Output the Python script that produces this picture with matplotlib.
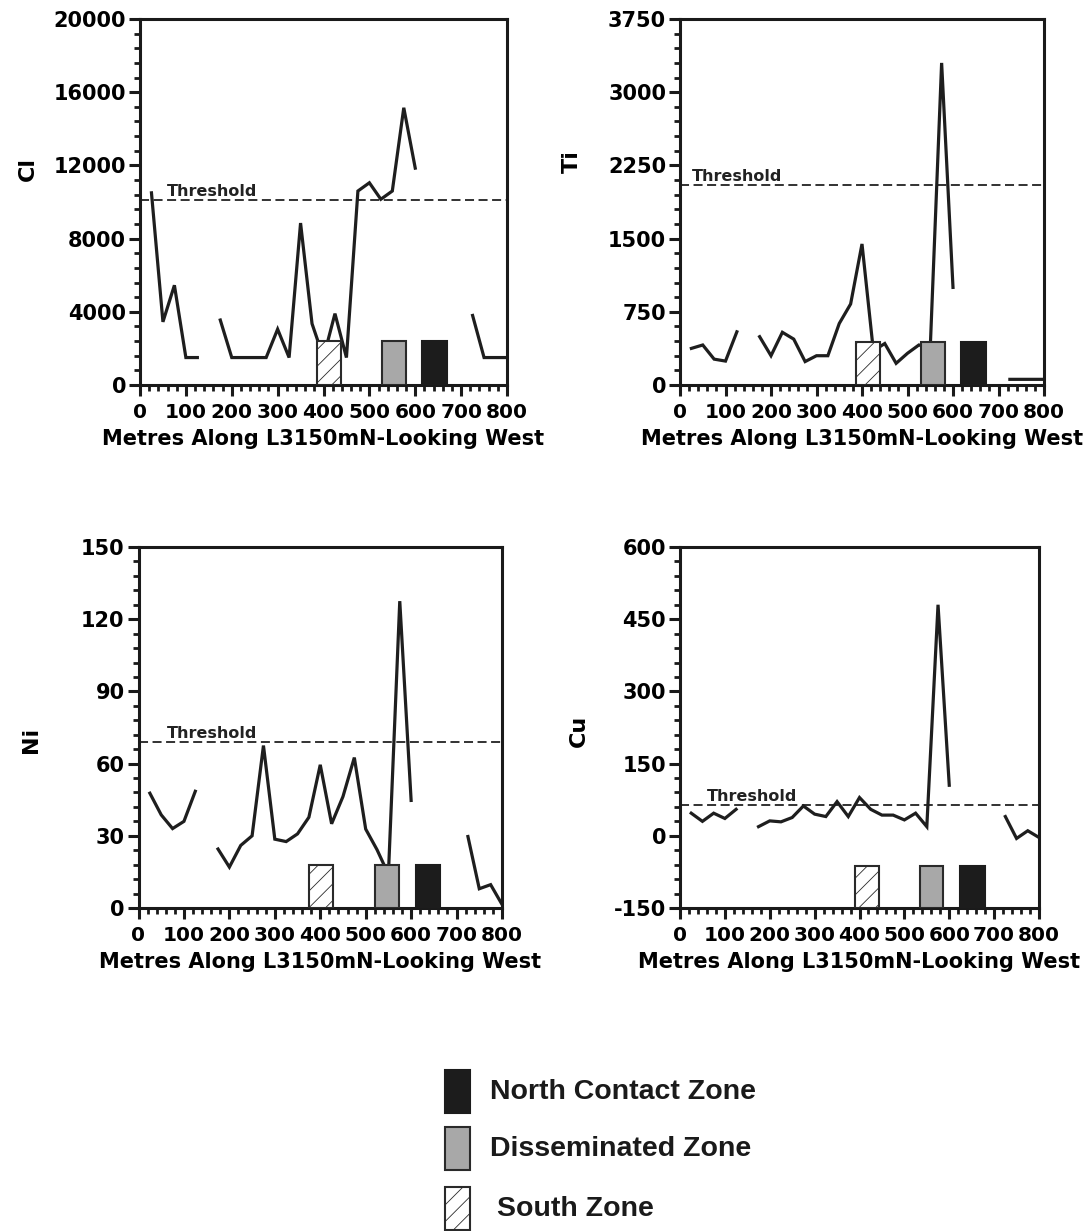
import numpy as np
import matplotlib
matplotlib.use('Agg')
import matplotlib.pyplot as plt
from matplotlib.patches import Rectangle
from matplotlib.ticker import MultipleLocator

# sample stations along the line (m); NaN = no sample, breaks the profile
stations = [25, 50, 75, 100, 125, 150, 175, 200, 225, 250, 275, 300, 325, 350, 375, 400,
            425, 450, 475, 500, 525, 550, 575, 600, 625, 650, 675, 700, 725, 750, 775, 800]
nan = np.nan

cl = [10500, 3450, 5450, 1500, 1500, nan, 3550, 1500, 1500, 1500, 1500, 3050, 1500, 8850,
      3350, 1500, 3900, 1500, 10600, 11050, 10150, 10600, 15150, 11850, nan, nan, nan, nan,
      3800, 1500, 1500, 1500]
ti = [375, 410, 265, 245, 545, nan, 495, 300, 540, 470, 240, 300, 300, 630, 830, 1445,
      350, 425, 222, 325, 410, 380, 3300, 1000, nan, nan, nan, nan, 58, 58, 58, 58]
ni = [47.7, 38.7, 33, 36, 48.5, nan, 24.5, 17, 26, 30, 67.5, 28.6, 27.6, 30.8, 37.7, 59.5,
      35, 46.3, 62.5, 32.8, 24.2, 14, 127.5, 44.7, nan, nan, nan, nan, 29.7, 8, 9.7, 1.5]
cu = [47, 30, 47, 36, 55, nan, 19, 31, 29, 38, 62, 45, 40, 71, 40, 79.5, 55, 43, 43, 33,
      47, 19, 480, 105, nan, nan, nan, nan, 40, -5.5, 10.5, -3.5]

elements = ['Cl', 'Ti', 'Ni', 'Cu']
profiles = [cl, ti, ni, cu]
thresholds = [10100, 2050, 69, 65]
y_limits = [(0, 20000), (0, 3750), (0, 150), (-150, 600)]
y_major = [4000, 750, 30, 150]
y_minor = [800, 150, 6, 30]

# zone boxes drawn on each panel: (start, end) metres, plus base/top in panel units
south_zone = [(386, 438), (387, 440), (376, 429), (390, 444)]
dissem_zone = [(527, 579), (530, 583), (520, 573), (535, 587)]
north_zone = [(615, 670), (617, 672), (610, 664), (624, 680)]
zone_base = [0, 0, 0, -150]
zone_top = [2400, 440, 18, -62]

zone_names = ['North Contact Zone', 'Disseminated Zone', 'South Zone']
zone_style = {
    'North Contact Zone': dict(facecolor='#1c1c1c', edgecolor='#1c1c1c', hatch=None),
    'Disseminated Zone': dict(facecolor='#a8a8a8', edgecolor='#2a2a2a', hatch=None),
    'South Zone': dict(facecolor='white', edgecolor='#2a2a2a', hatch='//'),
}

plt.rcParams['font.family'] = 'DejaVu Sans'
plt.rcParams['font.weight'] = 'bold'
plt.rcParams['axes.unicode_minus'] = False
plt.rcParams['hatch.color'] = '#8a8a8a'
plt.rcParams['hatch.linewidth'] = 0.6

fig = plt.figure(figsize=(10.86, 12.31), dpi=100)

W, H = 1086, 1231
# axes boxes in pixels: left, top, right, bottom
boxes = [(140, 19, 507, 385), (680, 19, 1044, 385),
         (138.5, 547, 502, 908), (680, 547, 1039, 908)]
ylabel_pos = [(-0.278, 0.59), (-0.269, 0.61), (-0.268, 0.465), (-0.255, 0.49)]
thr_label_x = [59, 27, 63, 60]

for i, el in enumerate(elements):
    l, t, r, b = boxes[i]
    ax = fig.add_axes([l / W, 1 - b / H, (r - l) / W, (b - t) / H])

    ax.plot(stations, profiles[i], color='#1e1e1e', lw=2.3, zorder=2,
            solid_joinstyle='miter')
    ax.axhline(thresholds[i], color='#222222', lw=1.3, dashes=(5, 2.5), zorder=1)
    ax.annotate('Threshold', xy=(thr_label_x[i], thresholds[i]), xytext=(0, 0.5),
                textcoords='offset points', va='bottom', ha='left',
                fontsize=11.5, fontweight='bold', color='#222222')

    for name, zone in zip(['South Zone', 'Disseminated Zone', 'North Contact Zone'],
                          [south_zone, dissem_zone, north_zone]):
        x0, x1 = zone[i]
        st = zone_style[name]
        ax.bar(x0, zone_top[i] - zone_base[i], width=x1 - x0, bottom=zone_base[i],
               align='edge', facecolor=st['facecolor'], edgecolor=st['edgecolor'],
               hatch=st['hatch'], linewidth=1.5, zorder=3)

    ax.set_xlim(0, 800)
    ax.set_ylim(*y_limits[i])
    ax.xaxis.set_major_locator(MultipleLocator(100))
    ax.xaxis.set_minor_locator(MultipleLocator(20))
    ax.yaxis.set_major_locator(MultipleLocator(y_major[i]))
    ax.yaxis.set_minor_locator(MultipleLocator(y_minor[i]))

    for sp in ax.spines.values():
        sp.set_linewidth(2.2)
        sp.set_color('#1a1a1a')
    ax.tick_params(which='major', direction='out', length=8, width=2.2, color='#1a1a1a')
    ax.tick_params(which='minor', direction='out', length=4, width=2.0, color='#1a1a1a')
    ax.tick_params(axis='x', which='major', labelsize=14.5, pad=5)
    ax.tick_params(axis='y', which='major', labelsize=15, pad=2)
    for lab in ax.get_xticklabels() + ax.get_yticklabels():
        lab.set_fontweight('bold')

    ax.set_xlabel('Metres Along L3150mN-Looking West', fontsize=15, fontweight='bold',
                  labelpad=5)
    ax.set_ylabel(el, fontsize=16, fontweight='bold')
    ax.yaxis.set_label_coords(*ylabel_pos[i])

# legend drawn in pixel space
lax = fig.add_axes([0, 0, 1, 1], zorder=-1)
lax.set_xlim(0, W)
lax.set_ylim(H, 0)
lax.axis('off')
legend_top = [1070, 1127, 1187]
legend_text_x = [490, 490, 497]
for name, y0, tx in zip(zone_names, legend_top, legend_text_x):
    st = zone_style[name]
    lax.add_patch(Rectangle((445, y0), 25, 43, facecolor=st['facecolor'],
                            edgecolor=st['edgecolor'], hatch=st['hatch'], lw=1.5))
    lax.text(tx, y0 + 22, name, fontsize=20.5, fontweight='bold', va='center', ha='left',
             family=['Liberation Sans', 'DejaVu Sans'], color='#1a1a1a')

fig.savefig('out.png', dpi=100)
